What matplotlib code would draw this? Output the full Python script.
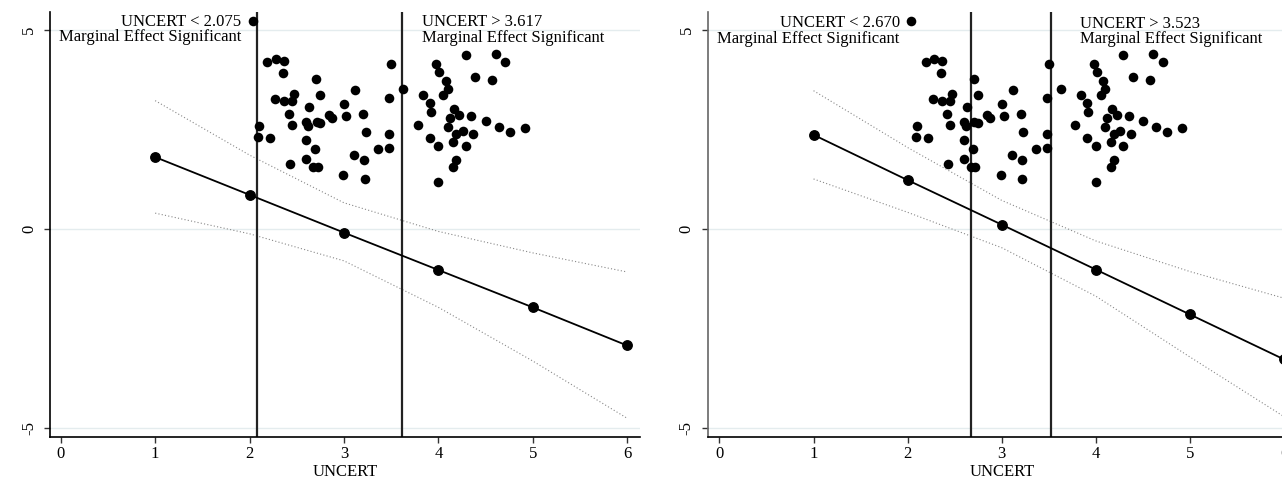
import matplotlib
matplotlib.use("Agg")
import matplotlib.pyplot as plt

plt.rcParams['font.family'] = ['Liberation Serif', 'DejaVu Serif']

# observed data (same scatter in both panels)
uncert_obs = [2.04, 2.19, 2.28, 2.36, 2.35, 3.50, 2.70, 3.12, 3.63, 2.27, 2.47, 2.37, 2.45, 2.75, 3.48,
              2.10, 2.09, 2.22, 2.42, 2.45, 2.63, 2.60, 2.62, 2.71, 2.75, 2.84, 2.87, 3.00, 3.02, 3.20,
              3.23, 2.60, 2.69, 2.60, 2.43, 2.67, 2.72, 2.99, 3.22, 3.11, 3.21, 3.36, 3.48, 3.48, 3.98,
              4.01, 4.29, 4.61, 4.71, 4.39, 4.57, 4.08, 4.10, 4.05, 3.84, 3.91, 3.92, 4.17, 4.22, 4.12,
              4.35, 4.50, 3.78, 4.10, 4.26, 4.19, 4.37, 4.64, 4.76, 4.92, 3.91, 4.00, 4.16, 4.29, 4.19,
              4.16, 4.00]
dv_obs = [5.23, 4.19, 4.28, 4.22, 3.93, 4.14, 3.77, 3.50, 3.52, 3.27, 3.40, 3.21, 3.22, 3.37, 3.30,
          2.59, 2.32, 2.28, 2.89, 2.62, 3.06, 2.70, 2.59, 2.70, 2.68, 2.87, 2.80, 3.15, 2.84, 2.89,
          2.45, 2.24, 2.01, 1.77, 1.63, 1.57, 1.57, 1.36, 1.25, 1.87, 1.74, 2.01, 2.05, 2.38, 4.15,
          3.96, 4.37, 4.40, 4.19, 3.83, 3.75, 3.72, 3.52, 3.36, 3.36, 3.16, 2.94, 3.03, 2.88, 2.79,
          2.85, 2.72, 2.61, 2.56, 2.47, 2.40, 2.40, 2.57, 2.43, 2.55, 2.28, 2.09, 2.20, 2.09, 1.73,
          1.55, 1.18]

# marginal effects evaluated at UNCERT = 1..6
uncert_grid = [1, 2, 3, 4, 5, 6]
me_left = [1.81, 0.86, -0.09, -1.03, -1.97, -2.93]
hi_left = [3.23, 1.86, 0.66, -0.06, -0.60, -1.08]
lo_left = [0.40, -0.12, -0.80, -1.97, -3.32, -4.76]
me_right = [2.37, 1.23, 0.11, -1.02, -2.15, -3.28]
hi_right = [3.48, 2.05, 0.72, -0.30, -1.07, -1.74]
lo_right = [1.26, 0.42, -0.47, -1.69, -3.22, -4.72]

cut_left = [2.075, 3.617]
cut_right = [2.670, 3.523]

xticks = [0, 1, 2, 3, 4, 5, 6]
yticks = [-5, 0, 5]

fig = plt.figure(figsize=(12.82, 4.78), dpi=100)
ax1 = fig.add_axes([0.0393, 0.0851, 0.4599, 0.8898])
ax2 = fig.add_axes([0.5523, 0.0851, 0.4585, 0.8898])


def panel(ax, me, hi, lo, cuts, ylab_shift=0.0):
    ax.axhline(5, color='#e4ecee', lw=1, zorder=0)
    ax.axhline(0, color='#e4ecee', lw=1, zorder=0)
    ax.axhline(-5, color='#e4ecee', lw=1, zorder=0)
    ax.scatter(uncert_obs, dv_obs, s=48, color='black', zorder=3, linewidths=0)
    ax.plot(uncert_grid, me, color='black', lw=1.3, marker='o', ms=6.8, zorder=3)
    ax.plot(uncert_grid, hi, color='#888888', lw=0.8, ls=(0, (1, 2)))
    ax.plot(uncert_grid, lo, color='#888888', lw=0.8, ls=(0, (1, 2)))
    for c in cuts:
        ax.axvline(c, color='#222222', lw=1.6)
    ax.text(1.915, 5.22 - ylab_shift, 'UNCERT < %.3f' % cuts[0], ha='right', va='center', fontsize=12)
    ax.text(1.915, 4.82 - ylab_shift, 'Marginal Effect Significant', ha='right', va='center', fontsize=12)
    ax.text(3.83, 5.20 - ylab_shift, 'UNCERT > %.3f' % cuts[1], ha='left', va='center', fontsize=12)
    ax.text(3.83, 4.80 - ylab_shift, 'Marginal Effect Significant', ha='left', va='center', fontsize=12)

    ax.set_ylim(-5.24, 5.46)
    ax.set_xticks(xticks)
    ax.set_yticks(yticks)
    ax.set_yticklabels(['-5', '0', '5'], rotation=90, va='center')
    ax.tick_params(axis='both', labelsize=12, length=4.5, width=1, color='#333333')
    ax.tick_params(axis='y', pad=5)
    ax.tick_params(axis='x', pad=2)
    ax.spines['top'].set_visible(False)
    ax.spines['right'].set_visible(False)
    ax.spines['left'].set_linewidth(1.2)
    ax.spines['bottom'].set_linewidth(1.2)
    ax.set_xlabel('UNCERT', fontsize=12, labelpad=1)


panel(ax1, me_left, hi_left, lo_left, cut_left)
ax1.set_xlim(-0.11, 6.136)
panel(ax2, me_right, hi_right, lo_right, cut_right, ylab_shift=0.03)
ax2.set_xlim(-0.121, 6.125)
ax2.spines['left'].set_color('#666666')

fig.savefig('out.png', dpi=100)
